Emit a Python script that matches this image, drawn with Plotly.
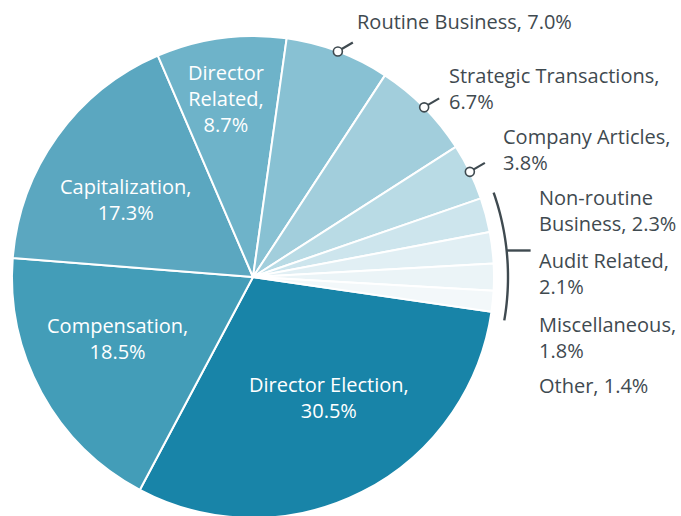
import math
import plotly.graph_objects as go

# ---------------- data ----------------
categories = ["Director Election", "Compensation", "Capitalization", "Director Related",
              "Routine Business", "Strategic Transactions", "Company Articles",
              "Non-routine Business", "Audit Related", "Miscellaneous", "Other"]
values = [30.5, 18.5, 17.3, 8.7, 7.0, 6.7, 3.8, 2.3, 2.1, 1.8, 1.4]
label_names = ["Director Election,<br>", "Compensation,<br>", "Capitalization,<br>",
               "Director<br>Related,<br>", "Routine Business, ", "Strategic Transactions,<br>",
               "Company Articles,<br>", "Non-routine<br>Business, ", "Audit Related,<br>",
               "Miscellaneous,<br>", "Other, "]
colors = ["#1884a8", "#439db8", "#5ba7c0", "#6eb3c9", "#88c1d3", "#a2cedc",
          "#b9dbe5", "#cde5ed", "#e1eff4", "#ebf4f7", "#f3f8fa"]

# ---------------- layout geometry ----------------
W, H = 681, 518
CX, CY, R = 253, 277, 241
ROT = 98.3
TXT = "#3f4a50"
FONT = "Open Sans"
FS = 20


def px(x):
    return x / W


def py(y):
    return 1 - y / H


def pt(angle_deg, radius):
    a = math.radians(angle_deg)
    return CX + radius * math.sin(a), CY - radius * math.cos(a)


total = sum(values)
starts, ends = [], []
acc = ROT
for v in values:
    starts.append(acc % 360)
    acc += v / total * 360
    ends.append(acc % 360)
mids = []
for s, e in zip(starts, ends):
    if e < s:
        e += 360
    mids.append(((s + e) / 2) % 360)

fig = go.Figure()
fig.add_trace(go.Pie(
    labels=categories, values=values, sort=False, direction="clockwise",
    rotation=ROT, textinfo="none", hoverinfo="label+percent",
    marker=dict(colors=colors, line=dict(color="white", width=2)),
    domain=dict(x=[px(CX - R), px(CX + R)], y=[max(0, py(CY + R)), py(CY - R)]),
    showlegend=False,
))

texts = [f"{n}{v:.1f}%" for n, v in zip(label_names, values)]

# label placements (pixels): (x, y, xanchor, color)
placements = {
    0: (329, 397, "center", "white"),
    1: (117, 338, "center", "white"),
    2: (125, 199, "center", "white"),
    3: (226, 99, "center", "white"),
    4: (355, 21, "left", TXT),
    5: (447, 88, "left", TXT),
    6: (501, 149, "left", TXT),
    7: (537, 211, "left", TXT),
    8: (537, 273, "left", TXT),
    9: (537, 337, "left", TXT),
    10: (537, 385, "left", TXT),
}
annotations = []
for i, (x, y, xa, c) in placements.items():
    annotations.append(dict(
        x=px(x), y=py(y), xref="paper", yref="paper", text=texts[i],
        showarrow=False, xanchor=xa, yanchor="middle", align=xa,
        font=dict(family=FONT, size=FS, color=c)))

shapes = []
# callouts for medium slices
for i in (4, 5, 6):
    x0, y0 = pt(mids[i], R)
    shapes.append(dict(type="line", xref="paper", yref="paper",
                       x0=px(x0 + 3), y0=py(y0 - 2), x1=px(x0 + 15), y1=py(y0 - 9),
                       line=dict(color=TXT, width=2.2), layer="above"))
    shapes.append(dict(type="circle", xref="paper", yref="paper",
                       xsizemode="pixel", ysizemode="pixel",
                       xanchor=px(x0), yanchor=py(y0), x0=-4.5, x1=4.5, y0=-4.5, y1=4.5,
                       fillcolor="white", line=dict(color=TXT, width=1.6), layer="above"))

# bracket for the smallest slices
a_top, a_bot = starts[7] - 0.3, ends[10] + 1.5
if a_bot < a_top:
    a_bot += 360
RB = R + 14
pts = []
n = 30
for k in range(n + 1):
    a = a_top + (a_bot - a_top) * k / n
    x, y = pt(a, RB)
    pts.append(f"{px(x):.5f},{py(y):.5f}")
shapes.append(dict(type="path", xref="paper", yref="paper",
                   path="M " + " L ".join(pts), line=dict(color=TXT, width=2.4),
                   layer="above"))
am = (a_top + a_bot) / 2 - 1.2
xm, ym = pt(am, RB)
shapes.append(dict(type="line", xref="paper", yref="paper",
                   x0=px(xm), y0=py(ym), x1=px(xm + 24), y1=py(ym),
                   line=dict(color=TXT, width=2.4), layer="above"))

fig.update_layout(
    width=W, height=H, margin=dict(l=0, r=0, t=0, b=0),
    paper_bgcolor="white", plot_bgcolor="white",
    annotations=annotations, shapes=shapes,
    font=dict(family=FONT, size=FS, color=TXT),
)
fig.write_html("out.html", config={"displayModeBar": False},
               post_script="document.body.style.margin='0';document.body.style.padding='0';")
